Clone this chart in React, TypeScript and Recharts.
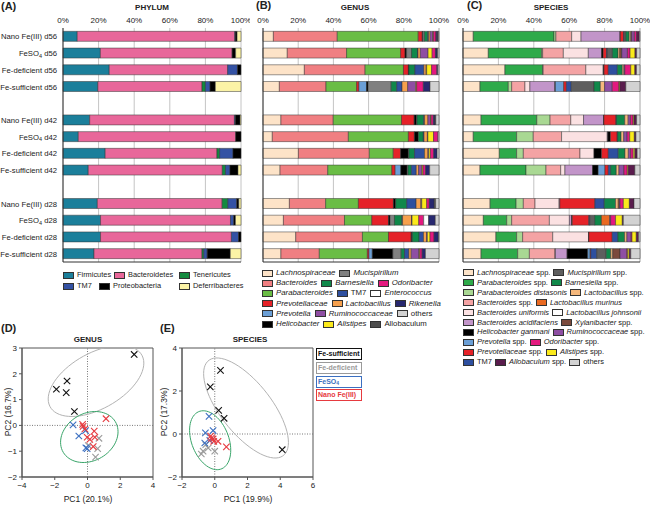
import React from "react";
import {
  BarChart,
  Bar,
  XAxis,
  YAxis,
  CartesianGrid,
  ScatterChart,
  Scatter,
  ReferenceLine,
  ReferenceArea,
} from "recharts";

const FONT = '"Liberation Sans", Arial, Helvetica, sans-serif';

// samples, top to bottom (a gap row goes between the days)
const sampleLabels = [
  "Nano Fe(III) d56",
  "FeSO4 d56",
  "Fe-deficient d56",
  "Fe-sufficient d56",
  "Nano Fe(III) d42",
  "FeSO4 d42",
  "Fe-deficient d42",
  "Fe-sufficient d42",
  "Nano Fe(III) d28",
  "FeSO4 d28",
  "Fe-deficient d28",
  "Fe-sufficient d28",
];
const percentTicks = [0, 20, 40, 60, 80, 100];

// (A) phylum
const phylumNames = ["Firmicutes", "Bacteroidetes", "Tenericutes", "TM7", "Proteobacteria", "Deferribacteres"];
const phylumColors = ["#1b7f9b", "#e8679a", "#138a3f", "#3452a4", "#000000", "#fbf3a6"];
const phylumValues = [
  [8, 88.5, 0, 0.3, 1.0, 2.2],
  [21, 74, 0, 0, 2, 3],
  [26, 66.5, 0, 5.5, 2, 0],
  [19.6, 58.5, 1.9, 2.6, 3, 14.4],
  [15, 81.3, 0, 0.5, 2.7, 0.5],
  [8.6, 88.4, 0, 0, 3, 0],
  [23.7, 62.8, 1.5, 7.5, 4.5, 0],
  [14.2, 75.3, 1.8, 2.5, 4.5, 1.7],
  [19.3, 70.1, 3.2, 5, 1.2, 1.2],
  [21.1, 73, 0, 1.8, 1, 3.1],
  [21.1, 73.5, 0, 4, 1.4, 0],
  [17.4, 60.7, 1, 1.9, 13, 6],
];

// (B) genus, in stacking order
const genusNames = [
  "Lachnospiraceae", "Bacteroides", "Parabacteroides", "Prevotellaceae", "Prevotella", "Helicobacter",
  "Mucispirillum", "Barnesiella", "TM7", "Lactobacillus", "Ruminococcaceae", "Alistipes",
  "Odoribacter", "Enterococcus", "Rikenella", "Allobaculum", "others",
];
const genusColors = [
  "#fde3c8", "#f07f82", "#6abd45", "#e52228", "#6b9fd6", "#000000",
  "#808080", "#10884a", "#2e4f9f", "#f6a04d", "#8e4ea3", "#fbea1b",
  "#e3197f", "#ffffff", "#27286f", "#4d4d4d", "#d2d2d2",
];
const genusValues = [
  [5.9, 36.3, 46, 2.3, 0, 0.3, 0.9, 1.9, 0.5, 0.9, 1.5, 0.3, 1.5, 0.2, 0.8, 0.3, 0.4],
  [13.8, 33.7, 30.7, 2.5, 0, 0.9, 2.8, 3.4, 0.3, 1.3, 4.4, 2.3, 1.9, 0, 0.9, 0.3, 0.8],
  [23.5, 34.5, 21.8, 2.8, 0, 0.3, 0, 3.4, 5.1, 1.3, 0.3, 2.8, 3.0, 0, 0.5, 0, 0.7],
  [9.3, 26.5, 17.4, 1.3, 4.3, 0.9, 13.1, 3.2, 3.0, 3.2, 4.6, 0.5, 3.8, 0, 3.8, 0, 5.1],
  [10.2, 29.7, 38.8, 7.2, 0, 1.3, 0.3, 3.8, 0.5, 1.9, 1.5, 0.3, 1.3, 0, 0.9, 0.5, 1.8],
  [5.3, 43.2, 34.1, 3.4, 0, 2.3, 0, 2.8, 0.4, 1.9, 0.3, 3.2, 2.5, 0, 0, 0, 0.6],
  [20.1, 40.3, 13.6, 4.2, 0, 4.4, 0.3, 3.2, 5.7, 1.9, 0.5, 0.9, 1.9, 0, 1.9, 0, 1.1],
  [9.7, 27.1, 36.4, 1.9, 3.2, 3.6, 0.5, 1.9, 2.8, 1.3, 1.9, 0.6, 1.5, 0, 2.3, 0, 5.3],
  [15, 20.6, 18.6, 19.9, 0, 1.3, 0, 6.3, 5.3, 2.7, 0.5, 2.8, 1.5, 0, 2.8, 0.8, 1.9],
  [11.6, 34.7, 15.5, 9.5, 0, 0.9, 2.5, 4.2, 0.4, 5.1, 0.3, 3.8, 2.8, 2.8, 3.8, 0, 2.1],
  [18.6, 37.9, 14.8, 12.9, 0, 0.4, 0.3, 3.8, 2.5, 1.7, 0.5, 1.5, 2.3, 0, 2.5, 0, 0.3],
  [10.2, 21.8, 27.3, 0.9, 1.9, 11.7, 4.7, 1.9, 2.5, 1.3, 4.4, 0.5, 1.3, 0, 1.9, 0, 7.7],
];
const genusLegendRows = [[0, 6], [1, 7, 12], [2, 8, 13], [3, 9, 14], [4, 10, 16], [5, 11, 15]];

// (C) species, in stacking order
const speciesNames = [
  "Lachnospiraceae spp.", "Parabacteroides spp.", "Parabacteroides distasonis", "Bacteroides spp.",
  "Bacteroides uniformis", "Bacteroides acidifaciens", "Helicobacter ganmani", "Prevotella spp.",
  "Prevotellaceae spp.", "TM7", "Mucispirillum spp.", "Barnesiella spp.", "Lactobacillus spp.",
  "Lactobacillus murinus", "Lactobacillus johnsonii", "Xylanibacter spp.", "Ruminococcaceae spp.",
  "Odoribacter spp.", "Alistipes spp.", "Allobaculum spp.", "others",
];
const speciesColors = [
  "#fde3c8", "#2eaa4a", "#a9d893", "#f4a3a4", "#fbe1e2", "#c295c9", "#000000", "#6b9fd6",
  "#e52228", "#2e4f9f", "#5e5e5e", "#10884a", "#f5b87c", "#ea6a22", "#ffffff", "#7b4a3c",
  "#8e4ea3", "#e3197f", "#fbea1b", "#5a1c4d", "#d2d2d2",
];
const speciesValues = [
  [5.8, 45.6, 1.1, 8.9, 5.3, 22, 0.2, 0, 1.9, 0.3, 0.9, 1.9, 0.9, 0, 0, 0.5, 1.5, 1.3, 0, 1.5, 0.4],
  [14.3, 30.1, 0.6, 11.7, 14.1, 7.5, 0.9, 0, 1.9, 0.5, 2.8, 3.2, 0.9, 0.7, 0, 0.5, 3.2, 1.5, 2.8, 0.9, 1.9],
  [23.7, 21.3, 0.3, 24.1, 9.8, 0.3, 0.2, 0, 2.4, 5.1, 0, 2.8, 0.9, 0, 0, 0, 0.5, 3.4, 2.3, 0.9, 2.0],
  [9.6, 16, 1.9, 7.5, 2.8, 14.1, 0.3, 4.7, 1.5, 2.8, 12.8, 3.6, 2.4, 0, 0, 0, 4.3, 3.8, 0.5, 3.4, 8.0],
  [10.2, 31.5, 7.5, 11.7, 7.2, 11.3, 0.2, 0, 6.8, 0.3, 0, 4.7, 1.9, 0, 0, 0, 1.3, 1.5, 0.5, 1.5, 1.9],
  [5.8, 24.5, 9.4, 16, 25.8, 0.3, 1.5, 0, 3.8, 0.3, 0, 1.9, 1.5, 0, 0, 0, 1.9, 1.5, 2.6, 0.9, 2.3],
  [20.5, 9.8, 3.8, 32, 7.9, 0, 4.3, 0, 3.8, 5.6, 0, 3.8, 1.9, 0, 0, 0, 1.3, 1.5, 0.9, 1.3, 1.6],
  [9.6, 26, 11.3, 8.3, 2.4, 15.6, 3.2, 3.8, 1.9, 1.3, 0, 3.2, 1.5, 0, 0, 0, 2.8, 1.9, 0.5, 3.8, 2.9],
  [15.3, 14.7, 4.1, 6.6, 13.6, 0.4, 0, 0, 19.8, 5.3, 0, 6.4, 1.5, 0.5, 0, 0, 0.5, 1.9, 3.4, 2.6, 3.4],
  [11.5, 13.2, 2.8, 21.3, 11.3, 1.3, 0.3, 0, 9.4, 0.5, 2.8, 3.8, 0, 4.7, 0, 0, 0.5, 2.8, 3.8, 0.6, 9.4],
  [18.6, 11.7, 3.4, 17, 20.2, 0, 0.2, 0, 13.2, 3.2, 0, 3.8, 1.3, 0, 0, 0, 2.4, 0.5, 2.4, 1.3, 0.8],
  [10.2, 20.7, 6.6, 14.5, 0.2, 6.6, 11.7, 1.3, 0.4, 3.4, 5.3, 2.6, 1.1, 0, 0, 4.1, 3.8, 0.5, 0.9, 0.9, 5.2],
];
const speciesLegendRows = [[0, 10], [1, 11], [2, 12], [3, 13], [4, 14], [5, 15], [6, 16], [7, 17], [8, 18], [9, 19, 20]];

const uprightNames = ["TM7", "others", "Allobaculum"];

// (D)/(E) PCA groups
const groupNames = ["Fe-sufficient", "Fe-deficient", "FeSO4", "Nano Fe(III)"];
const groupColors = ["#111111", "#9a9a9a", "#3b6fc1", "#e63a3f"];

const genusPcaSufficient = [[2.85, 2.75], [-1.9, 1.4], [-1.25, 1.72], [-1.3, 1.27], [-0.8, 0.54]];
const genusPcaDeficient = [[0.7, -0.5], [0.62, -0.9], [0.49, -1.23], [0.05, -0.78]];
const genusPcaFeSO4 = [[-0.88, 0.02], [-0.53, -0.41], [-0.12, -0.2], [-0.1, -0.87], [-0.02, -0.9]];
const genusPcaNano = [[1.13, 0.26], [-0.27, -0.04], [-0.16, -0.14], [0.41, -0.22], [-0.02, -0.46], [0.14, -0.54], [0.45, -0.46], [0.35, -0.82], [-0.3, 0.04]];

const speciesPcaSufficient = [[0.35, 2.96], [-0.27, 2.19], [0.24, 1.1], [0.57, 0.73], [4.12, -0.73]];
const speciesPcaDeficient = [[-0.55, -0.5], [-0.71, -0.8], [0, -0.8], [-0.4, -0.65], [-0.82, -0.93]];
const speciesPcaFeSO4 = [[-0.35, 0.82], [-0.57, 0.05], [-0.1, 0.16], [-0.61, -0.42], [-0.3, -0.3]];
const speciesPcaNano = [[-0.2, -0.19], [-0.1, -0.23], [-0.06, -0.34], [0.2, -0.34], [0.71, -0.6], [-0.25, -0.1]];

// confidence ellipses: centre + semi-axis vectors (data units)
const genusEllipseSufficient = { cx: 0.52, cy: 1.72, ux: 2.92, uy: 0.695, vx: 0, vy: 1.186 };
const genusEllipseOthers = { cx: 0.11, cy: -0.45, ux: 1.755, uy: 0.204, vx: 0, vy: 0.967 };
const speciesEllipseSufficient = { cx: 1.91, cy: 1.21, ux: 2.59, uy: -1.6, vx: 0, vy: 1.69 };
const speciesEllipseOthers = { cx: -0.28, cy: -0.29, ux: 1.257, uy: -0.461, vx: 0, vy: 1.291 };

const ELLIPSE_STEPS = 72;
function ellipsePoints(e: { cx: number; cy: number; ux: number; uy: number; vx: number; vy: number }) {
  return Array.from({ length: ELLIPSE_STEPS + 1 }, (_, i) => {
    const t = (2 * Math.PI * i) / ELLIPSE_STEPS;
    return {
      x: e.cx + e.ux * Math.cos(t) + e.vx * Math.sin(t),
      y: e.cy + e.uy * Math.cos(t) + e.vy * Math.sin(t),
    };
  });
}

function buildRows(values: number[][]) {
  const rows: any[] = [];
  values.forEach((vals, i) => {
    if (i === 4 || i === 8) rows.push({ id: `gap${i}` });
    const r: any = { id: `s${i}` };
    vals.forEach((v, k) => (r[`t${k}`] = v));
    rows.push(r);
  });
  return rows;
}

const toPts = (arr: number[][]) => arr.map(([x, y]) => ({ x, y }));
const minus = (v: number) => (v < 0 ? `\u2212${-v}` : `${v}`);

const SampleTick = (props: any) => {
  const { x, y, payload } = props;
  const id: string = payload.value;
  if (!id.startsWith("s")) return <g />;
  const label = sampleLabels[Number(id.slice(1))];
  const m = label.match(/^FeSO4(.*)$/);
  return (
    <text x={x} y={y} dy={3} textAnchor="end" fontSize={7.7} fill="#222" fontFamily={FONT}>
      {m ? (
        <>
          <tspan>FeSO</tspan>
          <tspan fontSize={5.5} dy={1.5}>4</tspan>
          <tspan dy={-1.5}>{m[1]}</tspan>
        </>
      ) : (
        label
      )}
    </text>
  );
};

const XMark = (props: any) => {
  const { cx, cy, fill } = props;
  const r = 3.2;
  return (
    <g stroke={fill} strokeWidth={1.1}>
      <line x1={cx - r} y1={cy - r} x2={cx + r} y2={cy + r} />
      <line x1={cx - r} y1={cy + r} x2={cx + r} y2={cy - r} />
    </g>
  );
};

function TaxonText({ name }: { name: string }) {
  if (uprightNames.includes(name)) return <span>{name}</span>;
  if (name.endsWith(" spp.")) {
    return (
      <span>
        <i>{name.slice(0, -5)}</i> spp.
      </span>
    );
  }
  return <i>{name}</i>;
}

function Swatch({ color }: { color: string }) {
  return (
    <span
      style={{
        display: "inline-block",
        width: 9,
        height: 5,
        background: color,
        border: "0.8px solid #333",
        marginRight: 3,
        flexShrink: 0,
      }}
    />
  );
}

function StackPanel(props: {
  values: number[][];
  names: string[];
  colors: string[];
  left: number;
  width: number;
  yWidth: number;
  marginLeft: number;
  marginRight: number;
  labels: boolean;
}) {
  const rows = buildRows(props.values);
  return (
    <div style={{ position: "absolute", left: props.left, top: 0 }}>
      <BarChart
        width={props.width}
        height={270}
        data={rows}
        layout="vertical"
        margin={{ top: 0, right: props.marginRight, left: props.marginLeft, bottom: 3 }}
        barCategoryGap="20%"
      >
        <CartesianGrid xAxisId="top" horizontal={false} stroke="#c4c4c4" />
        <XAxis
          xAxisId="top"
          orientation="top"
          type="number"
          domain={[0, 100]}
          ticks={percentTicks}
          interval={0}
          tickFormatter={(v) => `${v}%`}
          axisLine={false}
          tickLine={false}
          tickSize={3}
          tickMargin={2}
          height={28}
          tick={{ fontSize: 8, fill: "#222", fontFamily: FONT }}
        />
        <XAxis
          xAxisId="bottom"
          orientation="bottom"
          type="number"
          domain={[0, 100]}
          ticks={percentTicks}
          interval={0}
          tickFormatter={() => ""}
          axisLine={{ stroke: "#333" }}
          tickLine={{ stroke: "#333" }}
          tickSize={3}
          height={5}
        />
        <YAxis
          type="category"
          dataKey="id"
          width={props.yWidth}
          axisLine={{ stroke: "#333" }}
          tickLine={false}
          tickSize={4}
          tickMargin={2}
          interval={0}
          tick={props.labels ? <SampleTick /> : false}
        />
        {props.names.map((n, k) => (
          <Bar
            key={n}
            xAxisId="top"
            dataKey={`t${k}`}
            stackId="a"
            fill={props.colors[k]}
            stroke="#333"
            strokeWidth={0.5}
            isAnimationActive={false}
          />
        ))}
      </BarChart>
    </div>
  );
}

function PcaPanel(props: {
  left: number;
  groups: number[][][];
  ellipses: { cx: number; cy: number; ux: number; uy: number; vx: number; vy: number }[];
  xDomain: [number, number];
  xTicks: number[];
  yDomain: [number, number];
  yTicks: number[];
}) {
  const tick = { fontSize: 8, fill: "#222", fontFamily: FONT };
  const ellipseColors = ["#b3b3b3", "#3aa56a"];
  return (
    <div style={{ position: "absolute", left: props.left, top: 318 }}>
      <ScatterChart width={165} height={187} margin={{ top: 30, right: 12, left: 4, bottom: 0 }}>
        <XAxis
          type="number"
          dataKey="x"
          domain={props.xDomain}
          ticks={props.xTicks}
          interval={0}
          allowDataOverflow
          tickFormatter={minus}
          axisLine={{ stroke: "#555" }}
          tickLine={{ stroke: "#555" }}
          tickSize={3}
          height={28}
          tick={tick}
        />
        <YAxis
          type="number"
          dataKey="y"
          domain={props.yDomain}
          ticks={props.yTicks}
          interval={0}
          allowDataOverflow
          tickFormatter={minus}
          axisLine={{ stroke: "#555" }}
          tickLine={{ stroke: "#555" }}
          tickSize={3}
          width={18}
          tick={tick}
        />
        <ReferenceArea
          x1={props.xDomain[0]}
          x2={props.xDomain[1]}
          y1={props.yDomain[0]}
          y2={props.yDomain[1]}
          fill="none"
          stroke="#555"
          strokeWidth={1}
        />
        <ReferenceLine x={0} stroke="#777" strokeDasharray="1 1.5" />
        <ReferenceLine y={0} stroke="#777" strokeDasharray="1 1.5" />
        {props.ellipses.map((e, i) => (
          <Scatter
            key={`e${i}`}
            data={ellipsePoints(e)}
            fill={ellipseColors[i]}
            line={{ stroke: ellipseColors[i], strokeWidth: 1 }}
            shape={() => <g />}
            isAnimationActive={false}
          />
        ))}
        {[1, 2, 3, 0].map((g) => (
          <Scatter
            key={groupNames[g]}
            data={toPts(props.groups[g])}
            fill={groupColors[g]}
            shape={<XMark />}
            isAnimationActive={false}
          />
        ))}
      </ScatterChart>
    </div>
  );
}

const abs = (left: number, top: number, extra: React.CSSProperties = {}): React.CSSProperties => ({
  position: "absolute",
  left,
  top,
  whiteSpace: "nowrap",
  ...extra,
});

export default function App() {
  const phylumLegendPos = [
    [63, 270],
    [114, 270],
    [179, 270],
    [63, 281],
    [99, 281],
    [179, 281],
  ];
  return (
    <div
      style={{
        position: "absolute",
        left: 0,
        top: 0,
        width: 650,
        height: 505,
        background: "#fff",
        fontFamily: FONT,
        color: "#222",
        overflow: "hidden",
      }}
    >
      <StackPanel values={phylumValues} names={phylumNames} colors={phylumColors} left={0} width={250} yWidth={63} marginLeft={0} marginRight={9} labels />
      <StackPanel values={genusValues} names={genusNames} colors={genusColors} left={250} width={202} yWidth={1} marginLeft={12} marginRight={13} labels={false} />
      <StackPanel values={speciesValues} names={speciesNames} colors={speciesColors} left={450} width={200} yWidth={1} marginLeft={12} marginRight={10} labels={false} />

      <div style={abs(1, 0, { fontSize: 11, fontWeight: "bold" })}>(A)</div>
      <div style={abs(152, 3, { fontSize: 8, fontWeight: "bold", transform: "translateX(-50%)" })}>PHYLUM</div>
      <div style={abs(256, -1, { fontSize: 11, fontWeight: "bold" })}>(B)</div>
      <div style={abs(355, 3, { fontSize: 8, fontWeight: "bold", transform: "translateX(-50%)" })}>GENUS</div>
      <div style={abs(467, -1, { fontSize: 11, fontWeight: "bold" })}>(C)</div>
      <div style={abs(551, 3, { fontSize: 8, fontWeight: "bold", transform: "translateX(-50%)" })}>SPECIES</div>

      {phylumNames.map((n, k) => (
        <div key={n} style={abs(phylumLegendPos[k][0], phylumLegendPos[k][1], { fontSize: 7.4, lineHeight: "10px", display: "flex", alignItems: "center" })}>
          <Swatch color={phylumColors[k]} />
          <span>{n}</span>
        </div>
      ))}

      <div style={abs(262, 268, { fontSize: 7.8, lineHeight: "10.2px" })}>
        {genusLegendRows.map((row, r) => (
          <div key={r} style={{ display: "flex", alignItems: "center", gap: 4 }}>
            {row.map((k) => (
              <span key={k} style={{ display: "flex", alignItems: "center" }}>
                <Swatch color={genusColors[k]} />
                <TaxonText name={genusNames[k]} />
              </span>
            ))}
          </div>
        ))}
      </div>

      <div style={abs(463, 268, { fontSize: 7.5, lineHeight: "9.9px" })}>
        {speciesLegendRows.map((row, r) => (
          <div key={r} style={{ display: "flex", alignItems: "center", gap: 3 }}>
            {row.map((k) => (
              <span key={k} style={{ display: "flex", alignItems: "center" }}>
                <Swatch color={speciesColors[k]} />
                <TaxonText name={speciesNames[k]} />
              </span>
            ))}
          </div>
        ))}
      </div>

      <PcaPanel
        left={0}
        groups={[genusPcaSufficient, genusPcaDeficient, genusPcaFeSO4, genusPcaNano]}
        ellipses={[genusEllipseSufficient, genusEllipseOthers]}
        xDomain={[-4, 4]}
        xTicks={[-4, -2, 0, 2, 4]}
        yDomain={[-2, 3]}
        yTicks={[-2, -1, 0, 1, 2, 3]}
      />
      <PcaPanel
        left={160}
        groups={[speciesPcaSufficient, speciesPcaDeficient, speciesPcaFeSO4, speciesPcaNano]}
        ellipses={[speciesEllipseSufficient, speciesEllipseOthers]}
        xDomain={[-2, 6]}
        xTicks={[-2, 0, 2, 4, 6]}
        yDomain={[-2, 4]}
        yTicks={[-2, 0, 2, 4]}
      />

      <div style={abs(1, 322, { fontSize: 11, fontWeight: "bold" })}>(D)</div>
      <div style={abs(88, 335, { fontSize: 8, fontWeight: "bold", transform: "translateX(-50%)" })}>GENUS</div>
      <div style={abs(160, 322, { fontSize: 11, fontWeight: "bold" })}>(E)</div>
      <div style={abs(250, 335, { fontSize: 8, fontWeight: "bold", transform: "translateX(-50%)" })}>SPECIES</div>

      <div style={abs(88, 494, { fontSize: 8.5, transform: "translateX(-50%)" })}>PC1 (20.1%)</div>
      <div style={abs(248, 494, { fontSize: 8.5, transform: "translateX(-50%)" })}>PC1 (19.9%)</div>
      <div style={abs(8, 412, { fontSize: 8.5, transform: "translate(-50%, -50%) rotate(-90deg)" })}>PC2 (16.7%)</div>
      <div style={abs(164, 412, { fontSize: 8.5, transform: "translate(-50%, -50%) rotate(-90deg)" })}>PC2 (17.3%)</div>

      {groupNames.map((g, i) => (
        <div
          key={g}
          style={abs(316, 348 + i * 13.8, {
            width: 43,
            height: 10,
            border: `1.3px solid ${groupColors[i]}`,
            color: groupColors[i],
            fontSize: 7,
            fontWeight: "bold",
            lineHeight: "10px",
            paddingLeft: 1,
          })}
        >
          {g === "FeSO4" ? (
            <span>
              FeSO<sub style={{ fontSize: 5, verticalAlign: "-1px" }}>4</sub>
            </span>
          ) : (
            g
          )}
        </div>
      ))}
    </div>
  );
}
